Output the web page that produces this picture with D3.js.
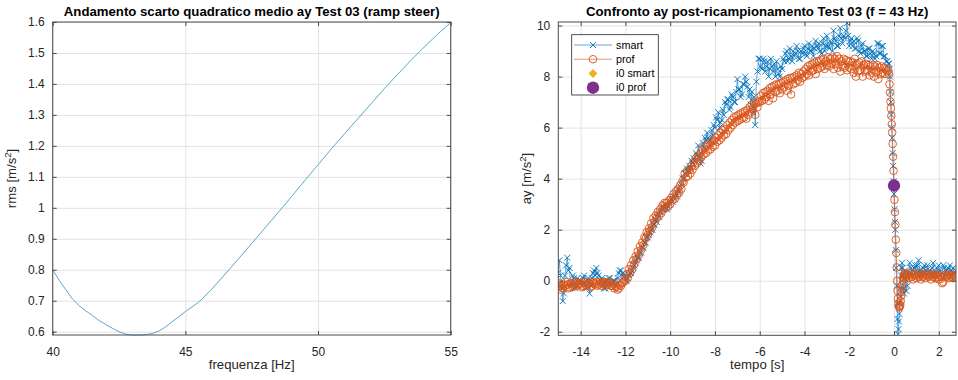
<!DOCTYPE html>
<html><head><meta charset="utf-8">
<script src="https://cdn.jsdelivr.net/npm/d3@7/dist/d3.min.js"></script>
<style>body{margin:0;background:#fff} text{font-family:"Liberation Sans",Arial,Helvetica,sans-serif}</style>
</head><body><svg id="c" width="958" height="380"></svg>
<script>
// ---------- Left chart data ----------
const frequenza = [40,40.25,40.5,40.75,41,41.25,41.5,41.75,42,42.25,42.5,42.75,43,43.25,43.5,43.75,44,44.25,44.5,44.75,45,45.5,46,46.5,47,47.5,48,48.5,49,49.5,50,50.5,51,51.5,52,52.5,53,53.5,54,54.5,55];
const rms = [0.800,0.765,0.735,0.705,0.684,0.667,0.652,0.636,0.623,0.611,0.600,0.592,0.589,0.589,0.590,0.594,0.602,0.615,0.632,0.648,0.665,0.695,0.738,0.786,0.835,0.885,0.935,0.985,1.036,1.088,1.139,1.190,1.239,1.288,1.336,1.385,1.431,1.476,1.519,1.560,1.598];
const xTicksL = [40,45,50,55];
const yTicksL = [0.6,0.7,0.8,0.9,1,1.1,1.2,1.3,1.4,1.5,1.6];

// ---------- Right chart data ----------
const tempo = [
-15,-14.95,-14.9,-14.85,-14.8,-14.75,-14.7,-14.65,-14.6,-14.55,-14.5,-14.45,-14.4,-14.35,-14.3,-14.25,-14.2,-14.15,-14.1,-14.05,
-14,-13.95,-13.9,-13.85,-13.8,-13.75,-13.7,-13.65,-13.6,-13.55,-13.5,-13.45,-13.4,-13.35,-13.3,-13.25,-13.2,-13.15,-13.1,-13.05,
-13,-12.95,-12.9,-12.85,-12.8,-12.75,-12.7,-12.65,-12.6,-12.55,-12.5,-12.45,-12.4,-12.35,-12.3,-12.25,-12.2,-12.15,-12.1,-12.05,
-12,-11.95,-11.9,-11.85,-11.8,-11.75,-11.7,-11.65,-11.6,-11.55,-11.5,-11.45,-11.4,-11.35,-11.3,-11.25,-11.2,-11.15,-11.1,-11.05,
-11,-10.95,-10.9,-10.85,-10.8,-10.75,-10.7,-10.65,-10.6,-10.55,-10.5,-10.45,-10.4,-10.35,-10.3,-10.25,-10.2,-10.15,-10.1,-10.05,
-10,-9.95,-9.9,-9.85,-9.8,-9.75,-9.7,-9.65,-9.6,-9.55,-9.5,-9.45,-9.4,-9.35,-9.3,-9.25,-9.2,-9.15,-9.1,-9.05,
-9,-8.95,-8.9,-8.85,-8.8,-8.75,-8.7,-8.65,-8.6,-8.55,-8.5,-8.45,-8.4,-8.35,-8.3,-8.25,-8.2,-8.15,-8.1,-8.05,
-8,-7.95,-7.9,-7.85,-7.8,-7.75,-7.7,-7.65,-7.6,-7.55,-7.5,-7.45,-7.4,-7.35,-7.3,-7.25,-7.2,-7.15,-7.1,-7.05,
-7,-6.95,-6.9,-6.85,-6.8,-6.75,-6.7,-6.65,-6.6,-6.55,-6.5,-6.45,-6.4,-6.35,-6.3,-6.25,-6.2,-6.15,-6.1,-6.05,
-6,-5.95,-5.9,-5.85,-5.8,-5.75,-5.7,-5.65,-5.6,-5.55,-5.5,-5.45,-5.4,-5.35,-5.3,-5.25,-5.2,-5.15,-5.1,-5.05,
-5,-4.95,-4.9,-4.85,-4.8,-4.75,-4.7,-4.65,-4.6,-4.55,-4.5,-4.45,-4.4,-4.35,-4.3,-4.25,-4.2,-4.15,-4.1,-4.05,
-4,-3.95,-3.9,-3.85,-3.8,-3.75,-3.7,-3.65,-3.6,-3.55,-3.5,-3.45,-3.4,-3.35,-3.3,-3.25,-3.2,-3.15,-3.1,-3.05,
-3,-2.95,-2.9,-2.85,-2.8,-2.75,-2.7,-2.65,-2.6,-2.55,-2.5,-2.45,-2.4,-2.35,-2.3,-2.25,-2.2,-2.15,-2.1,-2.05,
-2,-1.95,-1.9,-1.85,-1.8,-1.75,-1.7,-1.65,-1.6,-1.55,-1.5,-1.45,-1.4,-1.35,-1.3,-1.25,-1.2,-1.15,-1.1,-1.05,
-1,-0.95,-0.9,-0.85,-0.8,-0.75,-0.7,-0.65,-0.6,-0.55,-0.5,-0.45,-0.4,-0.35,-0.3,-0.25,
-0.22,-0.2,-0.18,-0.16,-0.14,-0.12,-0.1,-0.08,-0.06,-0.04,-0.02,0,0.02,0.04,0.06,0.08,0.1,0.12,0.14,0.16,0.18,0.2,0.22,0.24,0.26,0.28,0.3,0.32,0.34,0.36,0.38,0.4,0.42,0.44,0.46,
0.5,0.55,0.6,0.65,0.7,0.75,0.8,0.85,0.9,0.95,1,1.05,1.1,1.15,1.2,1.25,1.3,1.35,1.4,1.45,
1.5,1.55,1.6,1.65,1.7,1.75,1.8,1.85,1.9,1.95,2,2.05,2.1,2.15,2.2,2.25,2.3,2.35,2.4,2.45,
2.5,2.55,2.6,2.65,2.7,2.75];

const smart = [
0.3,0.8,0.2,-0.3,-0.8,-0.5,0.2,0.6,0.9,0.4,0.5,-0.2,-0.1,0.2,0.1,-0.3,-0.2,0.1,0.0,-0.1,
0.0,-0.2,0.1,0.2,-0.1,-0.3,0.0,0.1,-0.5,-0.2,0.1,0.3,0.4,0.2,0.5,0.3,0.2,-0.1,0.0,0.1,
-0.1,-0.3,-0.3,0.0,0.0,0.1,0.1,-0.2,-0.1,0.0,0.0,-0.2,-0.2,0.1,0.3,0.4,0.4,0.2,0.3,0.2,
0.1,0.0,0.1,0.2,0.3,0.3,0.4,0.5,0.6,0.7,0.8,0.9,0.9,1.1,1.1,1.3,1.3,1.5,1.5,1.7,
1.7,1.8,1.9,2.0,2.0,2.2,2.2,2.4,2.3,2.6,2.5,2.7,2.7,2.9,2.8,3.0,2.9,2.8,2.9,3.1,
3.0,3.2,3.1,3.3,3.2,3.4,3.3,3.6,3.5,3.7,3.8,4.0,4.0,4.2,4.2,4.4,4.3,4.5,4.4,4.7,
4.6,4.8,4.7,5.0,4.9,5.3,4.9,4.6,4.7,5.4,5.2,5.6,5.5,5.8,5.6,5.5,5.5,5.9,5.7,6.1,
6.0,6.4,6.3,6.6,6.0,6.2,6.3,6.7,6.5,7.0,6.9,7.1,7.1,6.7,6.8,7.3,7.2,7.0,7.0,7.4,
7.9,7.5,7.5,7.2,7.3,7.7,7.7,8.0,7.8,7.6,7.2,7.5,6.9,7.4,6.6,7.2,6.1,7.8,8.2,8.7,
8.7,8.4,8.3,8.7,8.6,8.2,8.4,8.6,8.0,8.3,8.7,8.4,8.2,8.5,8.0,8.6,8.3,8.1,8.0,8.4,
8.3,8.7,8.6,8.9,9.0,8.6,8.7,9.1,8.8,8.6,9.0,8.8,8.9,9.2,9.0,8.7,8.7,9.0,8.9,9.1,
9.2,8.9,8.8,9.1,9.3,9.0,9.0,9.2,8.8,9.1,9.4,9.2,9.1,9.3,9.0,8.9,9.3,9.5,9.0,9.2,
9.6,9.2,9.1,9.4,9.3,9.0,9.8,9.5,9.4,9.2,9.2,9.6,9.9,9.5,9.3,9.6,9.5,9.8,10.1,9.6,
9.2,9.4,9.5,9.2,9.4,9.1,9.1,9.5,9.4,9.0,8.9,9.2,9.3,9.0,9.0,8.8,8.8,9.1,9.1,8.9,
8.7,9.0,8.9,8.7,8.8,9.3,9.3,8.9,8.9,9.2,9.2,8.8,8.8,8.6,8.6,8.5,
8.5,8.3,8.0,7.4,7.0,6.5,6.0,5.6,5.0,4.5,3.9,3.4,2.8,2.3,2.0,1.2,0.5,-0.2,-0.9,-1.5,-2.1,-1.9,-1.6,-1.3,-0.9,-0.6,-0.3,0.2,0.5,0.7,0.5,0.2,-0.3,-0.5,0.1,
0.4,-0.4,-0.2,0.3,0.7,0.5,0.2,0.4,0.5,0.6,0.3,0.6,0.8,0.4,0.3,0.2,0.5,0.6,0.3,0.4,
0.6,0.3,0.4,0.2,0.5,0.7,0.3,0.2,0.5,0.3,0.6,0.4,0.2,0.3,0.6,0.5,0.2,0.4,0.5,0.3,
0.6,0.4,0.2,0.5,0.3,0.4];

const prof = [
-0.25,-0.1,-0.35,-0.2,-0.3,-0.15,-0.2,-0.05,-0.15,-0.3,-0.25,-0.1,-0.1,-0.25,-0.2,-0.05,-0.05,-0.2,-0.15,-0.1,
-0.1,-0.25,-0.2,-0.05,-0.05,-0.2,-0.15,-0.1,-0.1,-0.25,-0.2,-0.05,-0.1,-0.15,-0.05,-0.2,-0.15,-0.05,-0.1,-0.2,
-0.1,-0.05,-0.2,-0.1,-0.15,-0.05,-0.05,-0.2,-0.2,-0.1,-0.3,-0.2,-0.25,-0.35,-0.3,-0.15,-0.2,-0.1,-0.05,0.0,
0.0,0.25,0.1,0.45,0.3,0.6,0.45,0.8,0.65,0.95,0.85,1.15,1.0,1.35,1.2,1.5,1.4,1.7,1.65,1.9,
1.8,2.05,1.95,2.25,2.1,2.45,2.3,2.55,2.45,2.7,2.55,2.8,2.65,2.95,2.8,3.05,2.85,3.05,2.9,3.15,
3.0,3.25,3.15,3.4,3.2,3.5,3.35,3.6,3.45,3.75,3.6,3.9,3.85,4.2,4.05,4.3,4.1,4.35,4.2,4.5,
4.35,4.65,4.5,4.8,4.6,4.9,4.7,5.0,4.85,5.15,4.95,5.25,5.0,5.3,5.1,5.4,5.15,5.45,5.25,5.5,
5.3,5.6,5.45,5.7,5.5,5.8,5.6,5.9,5.7,5.95,5.75,6.1,5.9,6.2,6.0,6.3,6.1,6.4,6.2,6.45,
6.25,6.5,6.3,6.55,6.35,6.6,6.4,6.65,6.35,6.7,6.5,6.8,6.6,6.9,6.7,6.95,6.5,6.95,6.8,7.05,
7.0,7.25,7.05,7.35,7.1,7.4,7.2,7.45,7.05,7.55,7.3,7.6,7.15,7.65,7.4,7.7,7.45,7.7,7.35,7.75,
7.5,7.8,7.6,7.85,7.45,7.9,7.65,7.95,7.3,7.95,7.7,8.0,7.75,8.05,7.85,8.15,7.8,8.1,7.95,8.2,
8.0,8.3,8.1,8.4,8.05,8.45,8.2,8.5,8.25,8.55,8.1,8.6,8.3,8.6,8.35,8.65,8.4,8.7,8.3,8.6,
8.45,8.75,8.4,8.7,8.5,8.75,8.3,8.7,8.5,8.8,8.35,8.7,8.2,8.6,8.4,8.7,8.35,8.65,8.25,8.6,
8.35,8.6,8.3,8.55,8.15,8.7,8.0,8.5,8.2,8.55,8.25,8.6,8.0,8.45,8.2,8.5,8.25,8.45,8.05,8.4,
8.15,8.45,8.0,8.4,8.2,8.45,7.9,8.35,8.1,8.4,8.15,8.35,8.1,8.3,8.2,8.25,
8.08,7.7,7.37,7.02,6.76,6.46,6.13,5.81,5.36,4.86,4.31,3.73,3.17,2.69,2.2,1.61,1.09,0.52,0.0,-0.4,-0.7,-0.9,-1.0,-1.05,-1.0,-0.95,-0.8,-0.6,-0.45,-0.3,-0.15,0.0,0.1,0.2,0.25,
0.3,0.15,0.25,0.1,0.2,0.3,0.15,0.05,0.2,0.25,0.1,0.2,0.3,0.15,0.05,0.2,0.15,0.25,0.1,0.2,
0.3,0.15,0.2,0.05,0.25,0.15,0.2,0.1,0.25,0.15,0.05,0.2,0.15,-0.1,-0.05,0.2,0.25,0.15,0.2,0.1,
0.25,0.15,0.2,0.1,0.2,0.15];

const i0Tempo = [0];
const i0Smart = [3.73];
const i0Prof = [3.73];
const xTicksR = [-14,-12,-10,-8,-6,-4,-2,0,2];
const yTicksR = [-2,0,2,4,6,8,10];
const legendLabels = ["smart","prof","i0 smart","i0 prof"];

// ---------- Drawing ----------
const svg = d3.select("#c");
const AX = "#4a4a4a", GRID = "#e3e3e3";

function frame(g, x, y, xt, yt) {
  const [x0,x1] = x.range(), [y1,y0] = y.range();
  const W = x1-x0, H = y1-y0;
  g.append("g").attr("transform",`translate(0,${y1})`)
    .call(d3.axisBottom(x).tickValues(xt).tickSize(-H).tickFormat(""))
    .call(s=>{s.select(".domain").remove(); s.selectAll("line").attr("stroke",GRID);});
  g.append("g").attr("transform",`translate(${x0},0)`)
    .call(d3.axisLeft(y).tickValues(yt).tickSize(-W).tickFormat(""))
    .call(s=>{s.select(".domain").remove(); s.selectAll("line").attr("stroke",GRID);});
}
function axesOver(g, x, y, xt, yt, fmtX, fmtY) {
  const [x0,x1] = x.range(), [y1,y0] = y.range();
  const style = s => { s.select(".domain").remove(); s.selectAll("line").attr("stroke",AX);
    s.selectAll("text").attr("fill","#262626").style("font-size","12px").style("font-family",'"Liberation Sans",Arial,sans-serif'); };
  g.append("g").attr("transform",`translate(0,${y1})`)
    .call(d3.axisBottom(x).tickValues(xt).tickSizeInner(-4).tickSizeOuter(0).tickPadding(12).tickFormat(fmtX)).call(style);
  g.append("g").attr("transform",`translate(0,${y0})`)
    .call(d3.axisTop(x).tickValues(xt).tickSizeInner(-4).tickSizeOuter(0).tickFormat("")).call(style);
  g.append("g").attr("transform",`translate(${x0},0)`)
    .call(d3.axisLeft(y).tickValues(yt).tickSizeInner(-4).tickSizeOuter(0).tickPadding(8).tickFormat(fmtY)).call(style);
  g.append("g").attr("transform",`translate(${x1},0)`)
    .call(d3.axisRight(y).tickValues(yt).tickSizeInner(-4).tickSizeOuter(0).tickFormat("")).call(style);
  g.append("rect").attr("x",x0).attr("y",y0).attr("width",x1-x0).attr("height",y1-y0)
    .attr("fill","none").attr("stroke",AX).attr("stroke-width",1);
}
function labels(g, title, cx, xlab, ylabPre, ylx, cy) {
  g.append("text").attr("x",cx).attr("y",16).attr("text-anchor","middle")
    .style("font-size","13.2px").style("font-weight","bold").attr("fill","#000").text(title);
  g.append("text").attr("x",cx).attr("y",369).attr("text-anchor","middle")
    .style("font-size","13.2px").attr("fill","#262626").text(xlab);
  const t = g.append("text").attr("transform",`translate(${ylx},${cy}) rotate(-90)`)
    .attr("text-anchor","middle").style("font-size","13.2px").attr("fill","#262626");
  t.append("tspan").text(ylabPre + " [m/s");
  t.append("tspan").attr("dy",-5).style("font-size","9.5px").text("2");
  t.append("tspan").attr("dy",5).text("]");
}

// Left chart
const xL = d3.scaleLinear().domain([40,55]).range([52.7,450.7]);
const yL = d3.scaleLinear().domain([0.5893,1.6]).range([335,22]);
const gL = svg.append("g");
frame(gL, xL, yL, xTicksL, yTicksL);
gL.append("path").datum(frequenza.map((f,i)=>[f,rms[i]]))
  .attr("d", d3.line().x(d=>xL(d[0])).y(d=>yL(d[1])))
  .attr("fill","none").attr("stroke","#5aa7cc").attr("stroke-width",1);
axesOver(gL, xL, yL, xTicksL, yTicksL, d3.format("d"), d=>d3.format("")(d));
labels(gL, "Andamento scarto quadratico medio ay Test 03 (ramp steer)", 251.7, "frequenza [Hz]", "rms", 16, 178.5);

// Right chart
const xR = d3.scaleLinear().domain([-15,2.77]).range([558.3,956]);
const yR = d3.scaleLinear().domain([-2.14,10.14]).range([335.3,22]);
const gR = svg.append("g");
frame(gR, xR, yR, xTicksR, yTicksR);
svg.append("defs").append("clipPath").attr("id","clipR").append("rect")
  .attr("x",558.3).attr("y",22).attr("width",956-558.3).attr("height",335.3-22);
const plotR = gR.append("g").attr("clip-path","url(#clipR)");
const BLUE = "#0072BD", ORANGE = "#D95319", YEL = "#EDB120", PURP = "#7E2F8E";
const lineR = d3.line().x(d=>xR(d[0])).y(d=>yR(d[1]));
const dS = tempo.map((t,i)=>[t,smart[i]]);
const dP = tempo.map((t,i)=>[t,prof[i]]);
const xMark = "M-3,-3L3,3M-3,3L3,-3";
plotR.append("path").datum(dS).attr("d",lineR).attr("fill","none").attr("stroke",BLUE).attr("stroke-width",0.6);
plotR.append("g").selectAll("path").data(dS).join("path")
  .attr("transform",d=>`translate(${xR(d[0])},${yR(d[1])})`).attr("d",xMark)
  .attr("stroke",BLUE).attr("stroke-width",0.9).attr("fill","none");
plotR.append("path").datum(dP).attr("d",lineR).attr("fill","none").attr("stroke",ORANGE).attr("stroke-width",0.6);
plotR.append("g").selectAll("circle").data(dP).join("circle")
  .attr("cx",d=>xR(d[0])).attr("cy",d=>yR(d[1])).attr("r",3.8)
  .attr("stroke",ORANGE).attr("stroke-width",0.9).attr("fill","none");
plotR.append("g").selectAll("path").data(i0Tempo).join("path")
  .attr("transform",(t,i)=>`translate(${xR(t)},${yR(i0Smart[i])})`)
  .attr("d",d3.symbol(d3.symbolDiamond2,60)).attr("fill",YEL);
plotR.append("g").selectAll("circle").data(i0Tempo).join("circle")
  .attr("cx",t=>xR(t)).attr("cy",(t,i)=>yR(i0Prof[i])).attr("r",6.2).attr("fill",PURP);
axesOver(gR, xR, yR, xTicksR, yTicksR, d=>String(d), d=>String(d));
labels(gR, "Confronto ay post-ricampionamento Test 03 (f = 43 Hz)", 757.2, "tempo [s]", "ay", 531, 178.5);

// Legend
const lg = gR.append("g");
lg.append("rect").attr("x",571.7).attr("y",34.7).attr("width",86.6).attr("height",60.3)
  .attr("fill","#fff").attr("stroke","#262626").attr("stroke-width",0.8);
const rowY = d3.scalePoint().domain(legendLabels).range([45,87.7]);
const lx0 = 574, lx1 = 612, lxm = 593;
legendLabels.forEach((lab,i)=>{
  const yy = rowY(lab);
  if (i===0) {
    lg.append("line").attr("x1",lx0).attr("x2",lx1).attr("y1",yy).attr("y2",yy).attr("stroke",BLUE).attr("stroke-width",0.6);
    lg.append("path").attr("transform",`translate(${lxm},${yy})`).attr("d",xMark).attr("stroke",BLUE).attr("stroke-width",0.9);
  } else if (i===1) {
    lg.append("line").attr("x1",lx0).attr("x2",lx1).attr("y1",yy).attr("y2",yy).attr("stroke",ORANGE).attr("stroke-width",0.6);
    lg.append("circle").attr("cx",lxm).attr("cy",yy).attr("r",3.8).attr("fill","none").attr("stroke",ORANGE).attr("stroke-width",0.9);
  } else if (i===2) {
    lg.append("path").attr("transform",`translate(${lxm},${yy})`).attr("d",d3.symbol(d3.symbolDiamond2,50)).attr("fill",YEL);
  } else {
    lg.append("circle").attr("cx",lxm).attr("cy",yy).attr("r",6.2).attr("fill",PURP);
  }
  lg.append("text").attr("x",616).attr("y",yy).attr("dy","0.35em").style("font-size","10.8px").attr("fill","#000").text(lab);
});
</script></body></html>
